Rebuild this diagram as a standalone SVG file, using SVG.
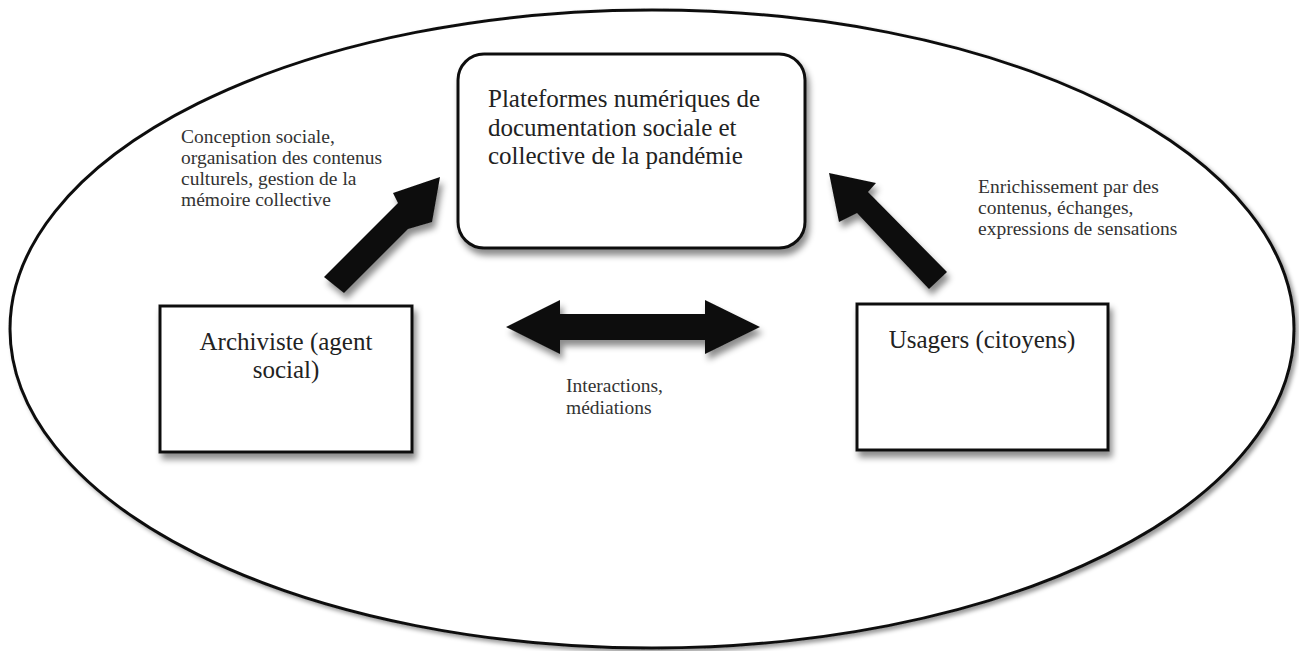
<svg xmlns="http://www.w3.org/2000/svg" width="1299" height="651" viewBox="0 0 1299 651">
<defs>
<filter id="sh" x="-20%" y="-20%" width="140%" height="140%">
<feDropShadow dx="3" dy="6" stdDeviation="3" flood-color="#000" flood-opacity="0.45"/>
</filter>
<filter id="esh" x="-5%" y="-5%" width="110%" height="110%">
<feDropShadow dx="3" dy="3" stdDeviation="2" flood-color="#000" flood-opacity="0.4"/>
</filter>
</defs>
<style>
.node{fill:#fff;stroke:#111;stroke-width:3}
.arr{fill:#111}
</style>
<rect width="1299" height="651" fill="#fff"/>
<ellipse id="frame" cx="652" cy="329" rx="642" ry="319" fill="#fff" stroke="#111" stroke-width="3" filter="url(#esh)"/>
<g id="platforms" font-family="Liberation Serif, serif" font-size="25" fill="#222">
<rect class="node" x="458" y="54" width="347" height="194" rx="26" filter="url(#sh)"/>
<text x="488" y="107">Plateformes numériques de</text>
<text x="488" y="135.5">documentation sociale et</text>
<text x="488" y="164">collective de la pandémie</text>
</g>
<g id="archiviste" font-family="Liberation Serif, serif" font-size="25" fill="#222">
<rect class="node" x="160" y="306" width="252" height="146" filter="url(#sh)"/>
<text x="286" y="349.5" text-anchor="middle">Archiviste (agent</text>
<text x="286" y="378" text-anchor="middle">social)</text>
</g>
<g id="usagers" font-family="Liberation Serif, serif" font-size="25" fill="#222">
<rect class="node" x="857" y="304" width="251" height="146" filter="url(#sh)"/>
<text x="982" y="348" text-anchor="middle">Usagers (citoyens)</text>
</g>
<g id="connectors" filter="url(#sh)">
<polygon class="arr" points="324,277 344,293 408,229 432,222 440,177 393,193 398,203"/>
<polygon class="arr" points="947,272 929,289 857,213 839,222 829,173 876,183 868,192"/>
<polygon class="arr" points="506,327 560,300 560,314 705,314 705,300 760,327 705,354 705,340 560,340 560,354"/>
</g>
<g id="labels" font-family="Liberation Serif, serif" font-size="19.5" fill="#333">
<text x="181" y="143">Conception sociale,</text>
<text x="181" y="164">organisation des contenus</text>
<text x="181" y="185">culturels, gestion de la</text>
<text x="181" y="206">mémoire collective</text>
<text x="978" y="193">Enrichissement par des</text>
<text x="978" y="214">contenus, échanges,</text>
<text x="978" y="235">expressions de sensations</text>
<text x="566" y="392">Interactions,</text>
<text x="566" y="414">médiations</text>
</g>
</svg>
